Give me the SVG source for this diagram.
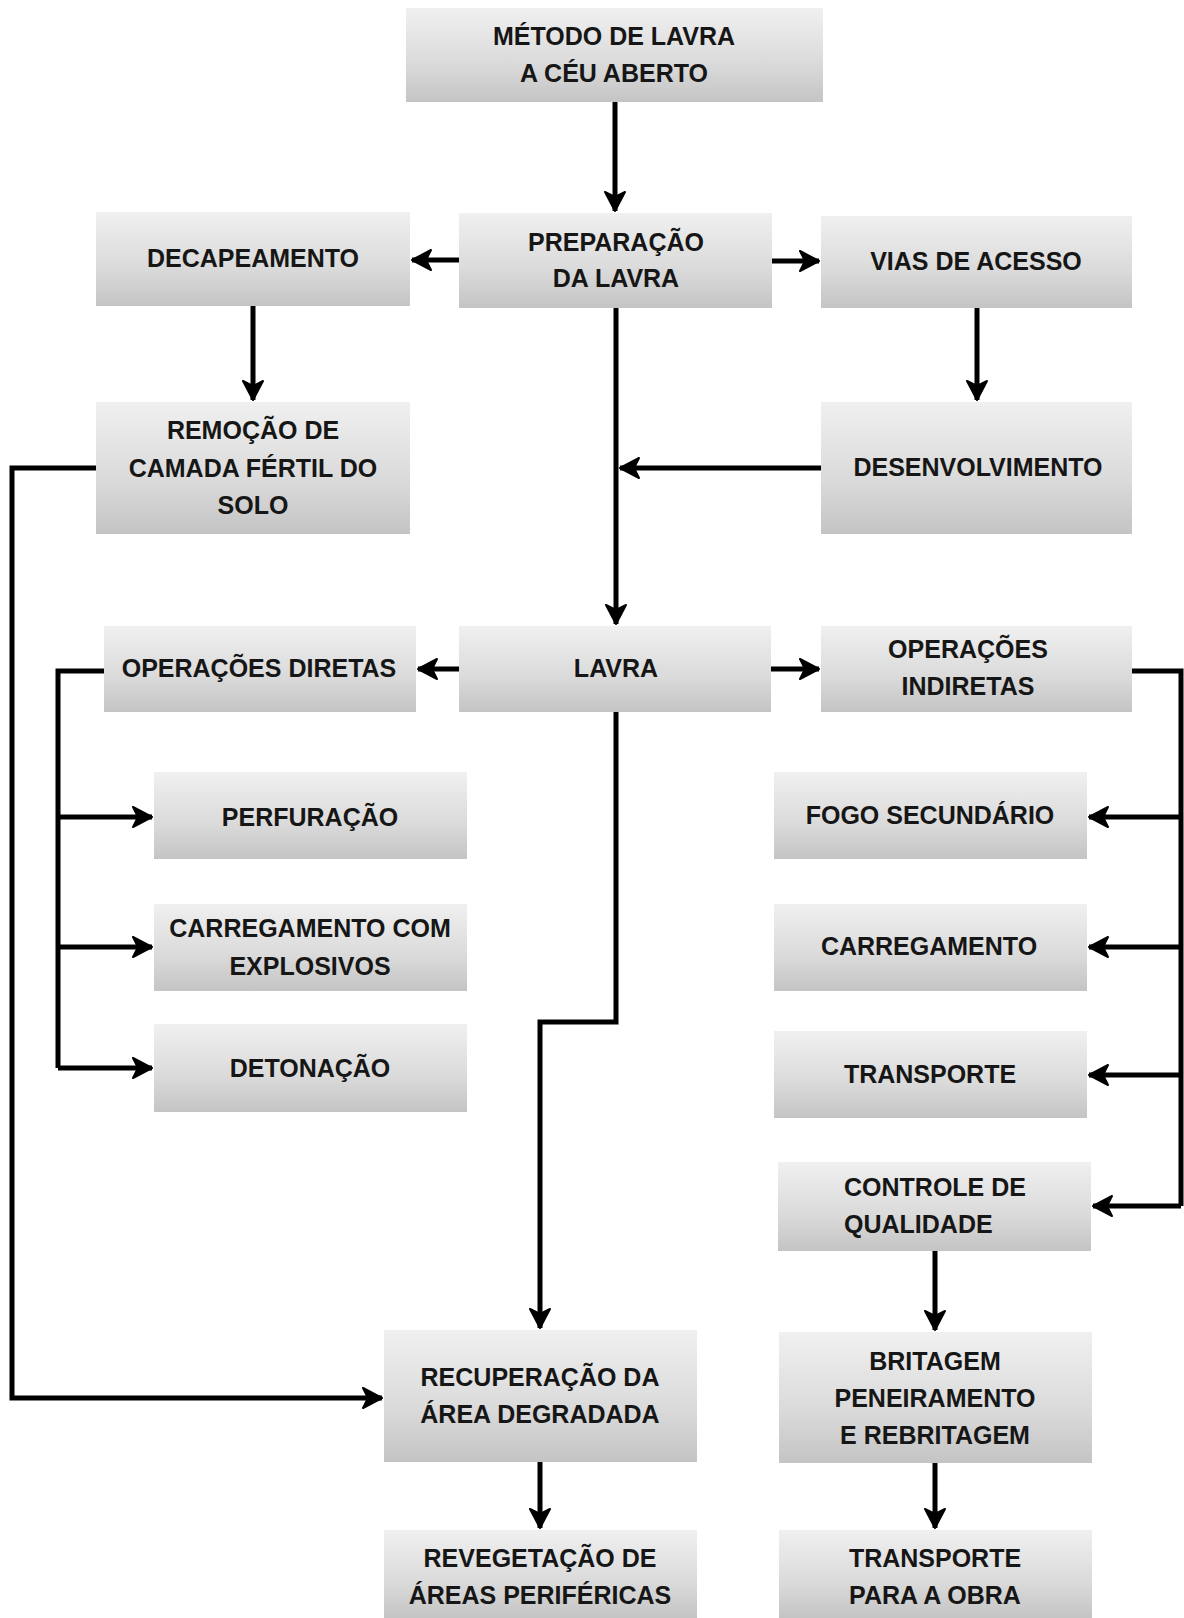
<svg xmlns="http://www.w3.org/2000/svg" width="1184" height="1618" viewBox="0 0 1184 1618">
<defs>
<linearGradient id="g" x1="0" y1="0" x2="0" y2="1">
<stop offset="0" stop-color="#f0f0f0"/>
<stop offset="0.6" stop-color="#dadada"/>
<stop offset="1" stop-color="#c4c4c4"/>
</linearGradient>
<marker id="ah" viewBox="0 0 24 24" markerWidth="24" markerHeight="24" refX="22" refY="12" orient="auto" markerUnits="userSpaceOnUse">
<path d="M3,2 L22,12 L3,22 L8,12 z" fill="#000" stroke="#000" stroke-width="2" stroke-linejoin="round"/>
</marker>
<style>
.b{fill:url(#g);}
.t{font-family:"Liberation Sans",Arial,sans-serif;font-weight:bold;font-size:25px;fill:#161616;text-anchor:middle;}
.c{fill:none;stroke:#000;stroke-width:5;stroke-linejoin:miter;}
.a{marker-end:url(#ah);}
</style>
</defs>
<rect width="1184" height="1618" fill="#fff"/>
<g id="connectors">
<path class="c a" d="M615,102 V211"/>
<path class="c a" d="M459,260 H412"/>
<path class="c a" d="M772,261 H819"/>
<path class="c a" d="M253,306 V400"/>
<path class="c a" d="M977,308 V400"/>
<path class="c a" d="M821,468 H620"/>
<path class="c a" d="M616,308 V624"/>
<path class="c a" d="M459,669 H418"/>
<path class="c a" d="M771,669 H819"/>
<path class="c" d="M104,671 H58 V1068"/>
<path class="c a" d="M58,817 H152"/>
<path class="c a" d="M58,947 H152"/>
<path class="c a" d="M58,1068 H152"/>
<path class="c" d="M1132,671 H1181 V1206"/>
<path class="c a" d="M1181,817 H1089"/>
<path class="c a" d="M1181,947 H1089"/>
<path class="c a" d="M1181,1075 H1089"/>
<path class="c a" d="M1181,1206 H1093"/>
<path class="c a" d="M616,712 V1022 H540 V1328"/>
<path class="c a" d="M96,468 H12 V1398 H382"/>
<path class="c a" d="M540,1462 V1528"/>
<path class="c a" d="M935,1251 V1330"/>
<path class="c a" d="M935,1463 V1528"/>
</g>
<g id="n1"><rect class="b" x="406" y="8" width="417" height="94"/><text class="t" x="614" y="45">MÉTODO DE LAVRA</text><text class="t" x="614" y="82">A CÉU ABERTO</text></g>
<g id="n2"><rect class="b" x="459" y="213" width="313" height="95"/><text class="t" x="616" y="251">PREPARAÇÃO</text><text class="t" x="616" y="287">DA LAVRA</text></g>
<g id="n3"><rect class="b" x="96" y="212" width="314" height="94"/><text class="t" x="253" y="267">DECAPEAMENTO</text></g>
<g id="n4"><rect class="b" x="821" y="216" width="311" height="92"/><text class="t" x="976" y="270">VIAS DE ACESSO</text></g>
<g id="n5"><rect class="b" x="96" y="402" width="314" height="132"/><text class="t" x="253" y="439">REMOÇÃO DE</text><text class="t" x="253" y="477">CAMADA FÉRTIL DO</text><text class="t" x="253" y="514">SOLO</text></g>
<g id="n6"><rect class="b" x="821" y="402" width="311" height="132"/><text class="t" x="978" y="476">DESENVOLVIMENTO</text></g>
<g id="n7"><rect class="b" x="459" y="626" width="312" height="86"/><text class="t" x="616" y="677">LAVRA</text></g>
<g id="n8"><rect class="b" x="104" y="626" width="312" height="86"/><text class="t" x="259" y="677">OPERAÇÕES DIRETAS</text></g>
<g id="n9"><rect class="b" x="821" y="626" width="311" height="86"/><text class="t" x="968" y="658">OPERAÇÕES</text><text class="t" x="968" y="695">INDIRETAS</text></g>
<g id="n10"><rect class="b" x="154" y="772" width="313" height="87"/><text class="t" x="310" y="826">PERFURAÇÃO</text></g>
<g id="n11"><rect class="b" x="154" y="904" width="313" height="87"/><text class="t" x="310" y="937">CARREGAMENTO COM</text><text class="t" x="310" y="975">EXPLOSIVOS</text></g>
<g id="n12"><rect class="b" x="154" y="1024" width="313" height="88"/><text class="t" x="310" y="1077">DETONAÇÃO</text></g>
<g id="n13"><rect class="b" x="774" y="772" width="313" height="87"/><text class="t" x="930" y="824">FOGO SECUNDÁRIO</text></g>
<g id="n14"><rect class="b" x="774" y="904" width="313" height="87"/><text class="t" x="929" y="955">CARREGAMENTO</text></g>
<g id="n15"><rect class="b" x="774" y="1031" width="313" height="87"/><text class="t" x="930" y="1083">TRANSPORTE</text></g>
<g id="n16"><rect class="b" x="778" y="1162" width="313" height="89"/><text class="t" x="844" y="1196" style="text-anchor:start">CONTROLE DE</text><text class="t" x="844" y="1233" style="text-anchor:start">QUALIDADE</text></g>
<g id="n17"><rect class="b" x="384" y="1330" width="313" height="132"/><text class="t" x="540" y="1386">RECUPERAÇÃO DA</text><text class="t" x="540" y="1423">ÁREA DEGRADADA</text></g>
<g id="n18"><rect class="b" x="779" y="1332" width="313" height="131"/><text class="t" x="935" y="1370">BRITAGEM</text><text class="t" x="935" y="1407">PENEIRAMENTO</text><text class="t" x="935" y="1444">E REBRITAGEM</text></g>
<g id="n19"><rect class="b" x="384" y="1530" width="313" height="88"/><text class="t" x="540" y="1567">REVEGETAÇÃO DE</text><text class="t" x="540" y="1604">ÁREAS PERIFÉRICAS</text></g>
<g id="n20"><rect class="b" x="779" y="1530" width="313" height="88"/><text class="t" x="935" y="1567">TRANSPORTE</text><text class="t" x="935" y="1604">PARA A OBRA</text></g>
</svg>
